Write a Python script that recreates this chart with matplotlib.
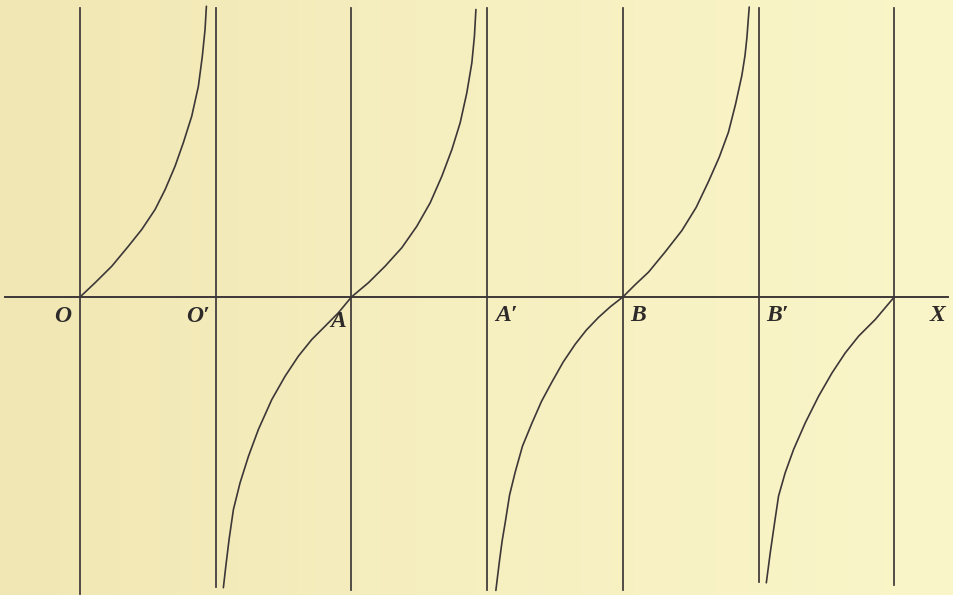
import numpy as np
import matplotlib
matplotlib.use("Agg")
import matplotlib.pyplot as plt

# x measured in quarter periods (asymptotes / zeros at 0, 1, ..., 6),
# y in the same units, read off the picture
asymptote_x = [0, 1, 2, 3, 4, 5, 6]
asymptote_bottom = [-2.19, -2.14, -2.16, -2.16, -2.16, -2.10, -2.12]
asymptote_top = 2.13

branch_1_x = [0.0, 0.111, 0.234, 0.356, 0.455, 0.553, 0.627, 0.700, 0.761,
              0.823, 0.872, 0.901, 0.921, 0.931]
branch_1_y = [0.0, 0.105, 0.227, 0.374, 0.498, 0.645, 0.792, 0.964, 1.137,
              1.333, 1.554, 1.775, 1.972, 2.143]

branch_2_x = [1.056, 1.074, 1.098, 1.130, 1.179, 1.241, 1.314, 1.413, 1.511,
              1.609, 1.708, 1.806, 1.904, 2.0,
              2.125, 2.248, 2.371, 2.482, 2.580, 2.666, 2.740, 2.801, 2.850,
              2.887, 2.906, 2.917]
branch_2_y = [-2.143, -1.985, -1.788, -1.567, -1.370, -1.174, -0.977, -0.756, -0.584,
              -0.436, -0.313, -0.215, -0.116, 0.0,
              0.105, 0.227, 0.363, 0.522, 0.694, 0.890, 1.087, 1.284, 1.505,
              1.726, 1.922, 2.119]

branch_3_x = [3.064, 3.09, 3.11, 3.133, 3.165, 3.206, 3.26, 3.329, 3.40, 3.477,
              3.56, 3.649, 3.73, 3.82, 3.91, 4.0,
              4.09, 4.189, 4.31, 4.435, 4.54, 4.631, 4.71, 4.778, 4.83, 4.877,
              4.90, 4.914, 4.931]
branch_3_y = [-2.163, -1.95, -1.80, -1.662, -1.46, -1.293, -1.10, -0.932, -0.77, -0.627,
              -0.48, -0.348, -0.245, -0.151, -0.07, 0.0,
              0.09, 0.183, 0.33, 0.49, 0.66, 0.851, 1.03, 1.215, 1.42, 1.634,
              1.78, 1.913, 2.137]

branch_4_x = [5.057, 5.086, 5.118, 5.147, 5.196, 5.258, 5.344, 5.442, 5.541,
              5.639, 5.737, 5.860, 6.0]
branch_4_y = [-2.107, -1.885, -1.664, -1.468, -1.296, -1.124, -0.928, -0.732, -0.560,
              -0.412, -0.289, -0.166, 0.0]

axis_x = [-0.553, 6.398]

labels = ["O", "O\u2032", "A", "A\u2032", "B", "B\u2032", "X"]
label_x = [-0.125, 0.870, 1.902, 3.14, 4.113, 5.137, 6.317]
label_y = [-0.147, -0.144, -0.181, -0.136, -0.136, -0.136, -0.136]

INK = "#3d3738"

fig = plt.figure(figsize=(9.54, 5.95), dpi=100)
ax = fig.add_axes([0, 0, 1, 1])
ax.set_xlim(-0.59, 6.44)
ax.set_ylim(-2.197, 2.189)
ax.axis("off")

# paper tone, a little darker on the left like the scan
paper = np.linspace(0, 1, 256).reshape(1, -1)
paper_cmap = matplotlib.colors.LinearSegmentedColormap.from_list(
    "paper", ["#f1e7b4", "#f6efc0", "#faf6c9"])
ax.imshow(paper, cmap=paper_cmap, aspect="auto", extent=(-0.59, 6.44, -2.197, 2.189),
          zorder=0)

for x, bottom in zip(asymptote_x, asymptote_bottom):
    ax.plot([x, x], [bottom, asymptote_top], color=INK, lw=1.25, zorder=2)

ax.plot(axis_x, [0, 0], color=INK, lw=1.4, zorder=2)

for bx, by in [(branch_1_x, branch_1_y), (branch_2_x, branch_2_y),
               (branch_3_x, branch_3_y), (branch_4_x, branch_4_y)]:
    ax.plot(bx, by, color=INK, lw=1.2, zorder=3, solid_capstyle="round",
            solid_joinstyle="round")

for text, x, y in zip(labels, label_x, label_y):
    ax.text(x, y, text, family=["Liberation Serif", "DejaVu Serif"], style="italic",
            weight="bold", fontsize=17, color="#2e2a2a", ha="center", va="center",
            zorder=4)

fig.savefig("out.png", dpi=100)
